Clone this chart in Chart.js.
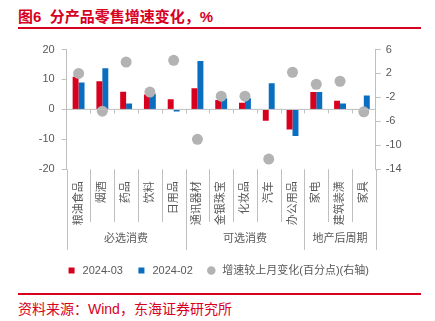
<!DOCTYPE html>
<html>
<head>
<meta charset="utf-8">
<script src="https://cdn.jsdelivr.net/npm/chart.js@4"></script>
<style>
  body { margin: 0; width: 435px; height: 321px; background: #fff; position: relative; overflow: hidden;
         font-family: "Liberation Sans", "Noto Sans CJK SC", sans-serif; }
  #title { position: absolute; left: 18px; top: 5px; font-size: 15px; font-weight: bold; color: #D7001E; white-space: pre; }
  #line1 { position: absolute; left: 18px; width: 403px; top: 27px; height: 2px; background: #D7001E; }
  #line2 { position: absolute; left: 18px; width: 403px; top: 293px; height: 1.5px; background: #D7001E; }
  #source { position: absolute; left: 18px; top: 298px; font-size: 14px; color: #D7001E; }
  #wrap { position: absolute; left: 0; top: 0; width: 435px; height: 286px; }
</style>
</head>
<body>
<div id="title">图6  分产品零售增速变化，%</div>
<div id="line1"></div>
<div id="wrap"><canvas id="c"></canvas></div>
<div id="line2"></div>
<div id="source">资料来源：Wind，东海证券研究所</div>
<script>
const categories = ['粮油食品', '烟酒', '药品', '饮料', '日用品', '通讯器材', '金银珠宝', '化妆品', '汽车', '办公用品', '家电', '建筑装潢', '家具'];
const groups = [
    { name: '必选消费', from: 0, to: 4 },
    { name: '可选消费', from: 5, to: 9 },
    { name: '地产后周期', from: 10, to: 12 }
];
const mar2024 = [10.9, 9.4, 5.9, 5.0, 3.4, 7.1, 3.1, 2.2, -3.8, -6.7, 5.8, 2.9, 0];
const feb2024 = [9.0, 13.7, 2.0, 5.2, -0.7, 16.2, 3.7, 3.7, 8.7, -8.9, 5.8, 2.0, 4.6];
const change = [2.0, -4.3, 3.9, -1.1, 4.2, -9.0, -1.8, -1.8, -12.3, 2.2, 0.2, 0.7, -4.4];
const leftTicks = [-20, 20, 10];   // min, max, step
const rightTicks = [-14, 6, 2];

const RED = '#D7001E', BLUE = '#0A6EC0', GREY = '#B3B3B3';
const AXIS = '#BFBFBF', TXT = '#595959';
const FONT = '"Liberation Sans", "Noto Sans CJK SC", sans-serif';

const CHART_TOP = 49.5, CHART_BOTTOM = 169.3, CHART_LEFT = 66.7, CHART_RIGHT = 375.7;

// zero line, category dividers, group labels, long axis lines
const framePlugin = {
    id: 'frame',
    afterDraw(chart) {
        const ctx = chart.ctx;
        const y = chart.scales.y;
        const area = chart.chartArea;
        const step = (area.right - area.left) / categories.length;
        const y0 = y.getPixelForValue(0);
        ctx.save();
        ctx.strokeStyle = AXIS;
        ctx.lineWidth = 1;
        ctx.beginPath();
        ctx.moveTo(area.left, y0);
        ctx.lineTo(area.right, y0);
        for (let i = 1; i < categories.length; i++) {
            const px = Math.round(area.left + i * step) + 0.5;
            ctx.moveTo(px, y0);
            ctx.lineTo(px, y0 + 4);
            const isGroupEdge = groups.some(g => g.from === i);
            ctx.moveTo(px, area.bottom);
            ctx.lineTo(px, isGroupEdge ? 250 : 222);
        }
        ctx.moveTo(Math.round(area.left) + 0.5, area.bottom);
        ctx.lineTo(Math.round(area.left) + 0.5, 250);
        ctx.moveTo(Math.round(area.right) + 0.5, area.bottom);
        ctx.lineTo(Math.round(area.right) + 0.5, 250);
        ctx.stroke();

        ctx.fillStyle = TXT;
        ctx.font = '11px ' + FONT;
        ctx.textAlign = 'center';
        ctx.textBaseline = 'middle';
        groups.forEach(g => {
            const cx = area.left + (g.from + g.to + 1) / 2 * step;
            ctx.fillText(g.name, cx, 239);
        });
        ctx.restore();
    }
};

new Chart(document.getElementById('c'), {
    data: {
        labels: categories,
        datasets: [
            { type: 'bar', label: '2024-03', data: mar2024, backgroundColor: RED, yAxisID: 'y', order: 2,
              categoryPercentage: 0.5, barPercentage: 1.0 },
            { type: 'bar', label: '2024-02', data: feb2024, backgroundColor: BLUE, yAxisID: 'y', order: 2,
              categoryPercentage: 0.5, barPercentage: 1.0 },
            { type: 'line', label: '增速较上月变化(百分点)(右轴)', data: change, yAxisID: 'y1', order: 0,
              showLine: false, pointRadius: 5.5, pointHoverRadius: 5.5, pointBackgroundColor: GREY,
              pointBorderWidth: 0, backgroundColor: GREY, borderColor: GREY }
        ]
    },
    options: {
        responsive: true,
        maintainAspectRatio: false,
        animation: false,
        layout: { padding: { top: CHART_TOP, left: 0, right: 0, bottom: 0 } },
        plugins: {
            tooltip: { enabled: false },
            legend: {
                position: 'bottom',
                labels: {
                    usePointStyle: true,
                    boxHeight: 6,
                    padding: 13,
                    color: TXT,
                    font: { size: 11, family: FONT },
                    generateLabels(chart) {
                        return chart.data.datasets.map((ds, i) => ({
                            text: ds.label,
                            fillStyle: i === 0 ? RED : i === 1 ? BLUE : GREY,
                            strokeStyle: 'rgba(0,0,0,0)',
                            lineWidth: 0,
                            pointStyle: i === 2 ? 'circle' : 'rect',
                            fontColor: TXT,
                            datasetIndex: i,
                            hidden: false
                        }));
                    }
                }
            }
        },
        scales: {
            x: {
                offset: true,
                grid: { display: false },
                border: { display: false },
                ticks: { color: TXT, font: { size: 11, family: FONT }, maxRotation: 90, minRotation: 90, padding: 4, autoSkip: false },
                afterFit(scale) {
                    scale.height = scale.chart.height - CHART_BOTTOM - scale.chart.legend.height;
                }
            },
            y: {
                position: 'left',
                min: leftTicks[0], max: leftTicks[1],
                ticks: { stepSize: leftTicks[2], color: TXT, font: { size: 11, family: FONT }, padding: 7 },
                grid: { drawOnChartArea: false, drawTicks: true, tickLength: 5, color: AXIS },
                border: { color: AXIS },
                afterFit(scale) { scale.width = CHART_LEFT; }
            },
            y1: {
                position: 'right',
                min: rightTicks[0], max: rightTicks[1],
                ticks: { stepSize: rightTicks[2], color: TXT, font: { size: 11, family: FONT }, padding: 5 },
                grid: { drawOnChartArea: false, drawTicks: true, tickLength: 5, color: AXIS },
                border: { color: AXIS },
                afterFit(scale) { scale.width = 435 - CHART_RIGHT; }
            }
        }
    },
    plugins: [framePlugin]
});
</script>
</body>
</html>
